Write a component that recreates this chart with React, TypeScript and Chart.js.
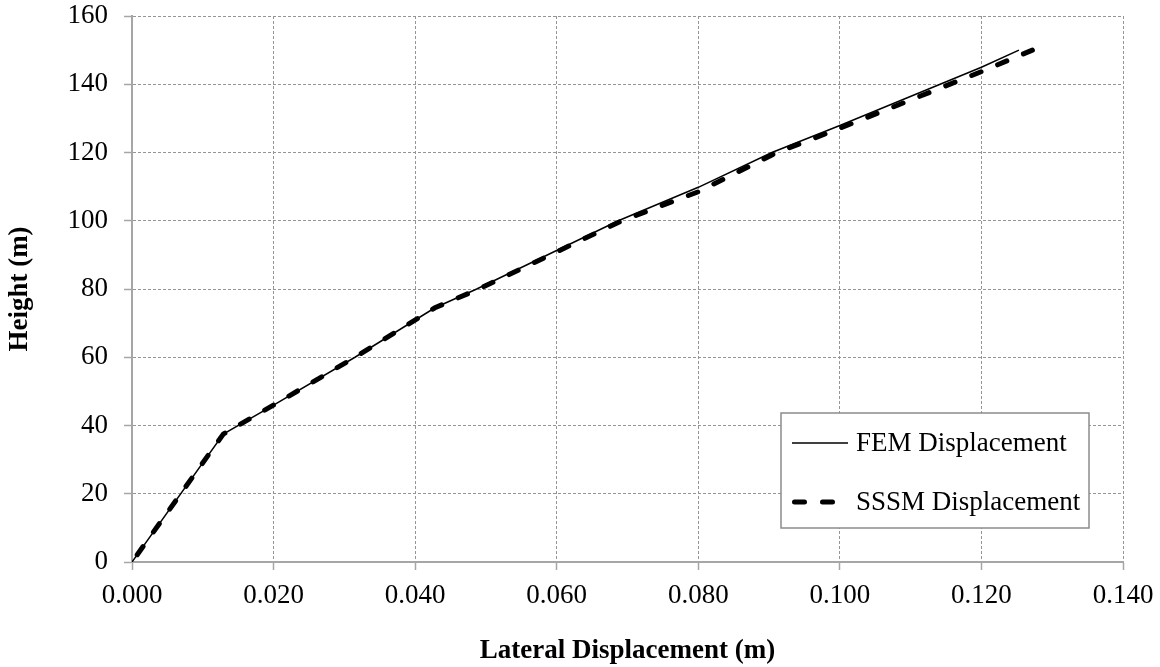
import React, { useEffect, useRef } from "react";
import { Chart, registerables } from "chart.js";

Chart.register(...registerables);

// Lateral displacement (m) vs height (m)
const femX = [0, 0.0129, 0.02, 0.0315, 0.0428, 0.0487, 0.0687, 0.08, 0.0904, 0.1, 0.12, 0.1253];
const femY = [0, 37.5, 46.0, 60, 74.5, 80, 100, 109.8, 120, 127.9, 145.0, 150];
const sssmX = [0, 0.0129, 0.02, 0.0315, 0.0428, 0.049, 0.0692, 0.08, 0.0911, 0.1, 0.12, 0.1272];
const sssmY = [0, 37.5, 46.0, 60, 74.5, 80, 100, 108.5, 120, 127.1, 143.7, 150];

const seriesLabels = ["FEM Displacement", "SSSM Displacement"];
const xTitle = "Lateral Displacement (m)";
const yTitle = "Height (m)";

const FONT = "'Liberation Serif', 'Times New Roman', serif";
const FS = 27;
const GRID = "#959595";
const AXIS = "#a6a6a6";

const legendPlugin = {
  id: "boxLegend",
  afterDraw(chart: any) {
    const ctx = chart.ctx;
    const bx = 781, by = 413, bw = 308, bh = 115;
    ctx.save();
    ctx.fillStyle = "#ffffff";
    ctx.fillRect(bx, by, bw, bh);
    ctx.strokeStyle = "#8c8c8c";
    ctx.lineWidth = 1.5;
    ctx.strokeRect(bx, by, bw, bh);
    const rows = [443, 502];
    chart.data.datasets.forEach((ds: any, i: number) => {
      const y = rows[i];
      ctx.save();
      ctx.strokeStyle = ds.borderColor;
      ctx.lineWidth = ds.borderWidth;
      ctx.lineCap = ds.borderCapStyle || "butt";
      ctx.setLineDash(ds.borderDash || []);
      ctx.beginPath();
      const x0 = ds.borderDash && ds.borderDash.length ? 794.5 : 792;
      ctx.moveTo(x0, y);
      ctx.lineTo(848, y);
      ctx.stroke();
      ctx.restore();
      ctx.fillStyle = "#000";
      ctx.font = `${FS}px ${FONT}`;
      ctx.textBaseline = "middle";
      ctx.textAlign = "left";
      ctx.fillText(ds.label, 856, y + 1);
    });
    ctx.restore();
  },
};

const bgPlugin = {
  id: "whiteBg",
  beforeDraw(chart: any) {
    const ctx = chart.ctx;
    ctx.save();
    ctx.fillStyle = "#fff";
    ctx.fillRect(0, 0, chart.width, chart.height);
    ctx.restore();
  },
};

export default function App() {
  const ref = useRef<HTMLCanvasElement | null>(null);
  useEffect(() => {
    if (!ref.current) return;
    const chart = new Chart(ref.current, {
      type: "line",
      data: {
        datasets: [
          {
            label: seriesLabels[0],
            data: femX.map((x, i) => ({ x, y: femY[i] })),
            borderColor: "#000",
            borderWidth: 1.5,
            pointRadius: 0,
            tension: 0,
            fill: false,
          },
          {
            label: seriesLabels[1],
            data: sssmX.map((x, i) => ({ x, y: sssmY[i] })),
            borderColor: "#000",
            borderWidth: 5,
            borderDash: [10, 18],
            borderDashOffset: 19,
            borderCapStyle: "round",
            pointRadius: 0,
            tension: 0,
            fill: false,
          },
        ],
      },
      options: {
        animation: false,
        responsive: false,
        maintainAspectRatio: false,
        layout: { padding: { left: 0, top: 16, right: 37, bottom: 0 } },
        plugins: {
          legend: { display: false },
          tooltip: { enabled: false },
        },
        scales: {
          x: {
            type: "linear",
            min: 0,
            max: 0.14,
            ticks: {
              stepSize: 0.02,
              color: "#000",
              font: { family: FONT, size: FS },
              padding: 10,
              maxRotation: 0,
              callback: (v: any) => Number(v).toFixed(3),
            },
            grid: { color: GRID, lineWidth: 1, tickLength: 8, tickColor: AXIS, tickWidth: 1.5 },
            border: { color: AXIS, width: 2, dash: [3, 2] },
            title: {
              display: true,
              text: xTitle,
              color: "#000",
              font: { family: FONT, size: FS, weight: "bold" },
              padding: { top: 4, bottom: 0 },
            },
            afterFit: (s: any) => {
              s.height = 105;
              s.paddingLeft = 0;
              s.paddingRight = 0;
            },
          },
          y: {
            type: "linear",
            min: 0,
            max: 160,
            ticks: {
              stepSize: 20,
              color: "#000",
              font: { family: FONT, size: FS },
              padding: 16,
            },
            grid: { color: GRID, lineWidth: 1, tickLength: 8, tickColor: AXIS, tickWidth: 1.5 },
            border: { color: AXIS, width: 2, dash: [3, 2] },
            title: {
              display: true,
              text: yTitle,
              color: "#000",
              font: { family: FONT, size: FS, weight: "bold" },
              padding: { top: 4, bottom: 4 },
            },
            afterFit: (s: any) => {
              s.width = 132;
              s.paddingTop = 0;
              s.paddingBottom = 0;
            },
          },
        },
      },
      plugins: [bgPlugin, legendPlugin],
    });
    return () => chart.destroy();
  }, []);
  return (
    <div style={{ position: "fixed", left: 0, top: 0, width: 1160, height: 667, background: "#fff" }}>
      <canvas ref={ref} width={1160} height={667} style={{ display: "block" }} />
    </div>
  );
}
